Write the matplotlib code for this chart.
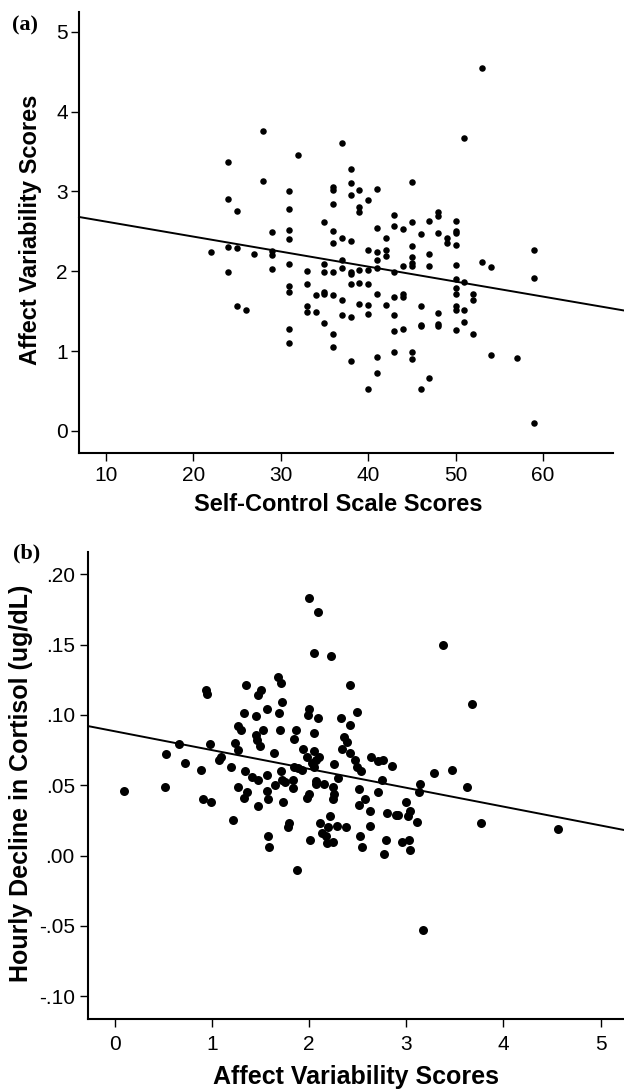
import matplotlib
matplotlib.use("Agg")
import matplotlib.pyplot as plt
import numpy as np

plt.rcParams['font.family'] = ['Liberation Sans', 'DejaVu Sans']

# panel (a): self-control vs affect variability
sc_x = [24, 28, 32, 28, 24, 25, 31, 31, 29, 31, 31, 22, 24, 25, 27, 29, 29, 31, 29, 24, 33,
        53, 51, 37, 38, 38, 38, 36, 36, 39, 41, 40, 36, 39, 39, 45, 35, 36, 36, 37, 38,
        41, 43, 43, 44, 42, 45, 46, 47, 48, 48, 48, 49, 49, 50, 50, 50, 50, 45, 40, 41,
        41, 42, 42, 45, 45, 45, 47, 47, 37, 37, 38, 38, 39, 40, 41, 35, 35, 36, 43, 44,
        50, 53, 54, 59, 59,
        50, 50, 50, 51, 52, 52, 31, 31, 33, 34, 35, 35, 36, 37, 38, 39, 40, 41, 43, 44,
        44, 25, 26, 33, 33, 34, 37, 38, 39, 40, 40, 42, 43, 46, 48, 50, 50, 51, 35, 31,
        36, 43, 44, 46, 46, 48, 48, 50, 51, 52, 31, 36, 38, 41, 43, 45, 45, 54, 57, 41,
        40, 46, 47, 59]
av_y = [3.37, 3.76, 3.46, 3.13, 2.91, 2.76, 3.00, 2.78, 2.49, 2.51, 2.40, 2.24, 2.30, 2.29,
        2.22, 2.25, 2.20, 2.09, 2.03, 1.99, 2.00,
        4.55, 3.67, 3.61, 3.28, 3.10, 2.96, 3.05, 3.02, 3.02, 3.03, 2.89, 2.84, 2.80, 2.74,
        3.12, 2.62, 2.50, 2.35, 2.41, 2.38, 2.54, 2.70, 2.57, 2.53, 2.41, 2.62, 2.47, 2.63,
        2.74, 2.69, 2.48, 2.42, 2.35, 2.63, 2.50, 2.48, 2.33, 2.32, 2.26, 2.24, 2.14, 2.26,
        2.19, 2.18, 2.10, 2.06, 2.22, 2.07, 2.14, 2.04, 1.99, 1.96, 2.02, 2.02, 2.04, 2.09,
        1.99, 1.99, 1.99, 2.06, 2.08, 2.11, 2.05, 2.26, 1.92,
        1.90, 1.79, 1.71, 1.87, 1.71, 1.64, 1.81, 1.74, 1.84, 1.70, 1.74, 1.72, 1.70, 1.64,
        1.84, 1.85, 1.84, 1.72, 1.68, 1.71, 1.68, 1.57, 1.51, 1.56, 1.49, 1.49, 1.45, 1.43,
        1.59, 1.58, 1.47, 1.58, 1.45, 1.56, 1.48, 1.56, 1.51, 1.52, 1.35, 1.28, 1.21, 1.25,
        1.28, 1.32, 1.33, 1.34, 1.32, 1.27, 1.36, 1.21, 1.10, 1.05, 0.87, 0.93, 0.99, 0.99,
        0.90, 0.95, 0.91, 0.72, 0.53, 0.52, 0.66, 0.10]
fit_a = (2.81, -0.0188)   # intercept, slope

# panel (b): affect variability vs hourly cortisol decline
av_x = [2.00, 2.09, 2.05, 2.23, 3.38, 3.68, 0.94, 0.95, 1.35, 1.51, 1.48, 1.68, 1.71, 1.72,
        2.42, 1.57, 1.69, 1.33, 1.46, 2.00, 1.99, 2.09, 2.33, 2.49, 2.42, 1.27, 1.30, 1.53,
        1.45, 1.70, 1.87, 1.85, 2.05, 2.36, 2.39, 2.34, 1.47, 1.50, 1.24, 0.98, 0.66, 0.53,
        0.72, 1.27, 1.64, 1.94, 1.98, 2.03, 2.07, 2.05, 2.10, 2.42, 2.47, 2.49, 2.54, 2.64,
        2.71, 2.76, 2.85, 2.26, 2.30, 2.07, 2.15, 2.25, 2.26, 2.75, 3.29, 3.47, 1.07, 1.10,
        0.89, 1.20, 1.34, 1.41, 1.48, 1.57, 1.71, 1.72, 1.84, 1.85, 1.89, 1.65, 1.93, 2.05,
        2.07,
        0.10, 0.52, 0.91, 0.99, 1.27, 1.36, 1.33, 1.57, 1.75, 1.84, 1.58, 1.73, 1.48, 1.22,
        1.79, 1.78, 1.58, 1.59, 1.88, 2.00, 1.98, 2.25, 2.11, 2.13, 2.18, 2.22, 2.20, 2.29,
        2.38, 2.19, 2.25, 2.01, 2.51, 2.51, 2.58, 2.71, 2.63, 2.63, 2.52, 2.55, 2.80, 2.89,
        2.92, 2.79, 2.77, 3.00, 3.04, 3.02, 3.11, 2.96, 3.03, 3.04, 3.14, 3.13, 3.17, 3.63,
        3.77, 4.56]
cort_y = [0.183, 0.173, 0.144, 0.142, 0.150, 0.108, 0.118, 0.115, 0.121, 0.118, 0.114, 0.127,
          0.123, 0.109, 0.121, 0.104, 0.101, 0.101, 0.099, 0.104, 0.100, 0.098, 0.098, 0.102,
          0.093, 0.092, 0.089, 0.089, 0.086, 0.089, 0.089, 0.083, 0.087, 0.084, 0.081, 0.076,
          0.082, 0.078, 0.080, 0.079, 0.079, 0.072, 0.066, 0.075, 0.073, 0.076, 0.070, 0.066,
          0.068, 0.074, 0.070, 0.073, 0.068, 0.063, 0.060, 0.070, 0.067, 0.068, 0.064, 0.065,
          0.055, 0.051, 0.051, 0.049, 0.044, 0.054, 0.059, 0.061, 0.068, 0.070, 0.061, 0.063,
          0.060, 0.056, 0.054, 0.057, 0.060, 0.054, 0.054, 0.063, 0.062, 0.050, 0.061, 0.063,
          0.053,
          0.046, 0.049, 0.040, 0.038, 0.049, 0.045, 0.041, 0.046, 0.052, 0.048, 0.040, 0.038,
          0.035, 0.025, 0.023, 0.020, 0.014, 0.006, -0.010, 0.044, 0.041, 0.040, 0.023, 0.016,
          0.014, 0.028, 0.020, 0.021, 0.020, 0.009, 0.010, 0.011, 0.047, 0.036, 0.040, 0.045,
          0.032, 0.021, 0.014, 0.006, 0.030, 0.029, 0.029, 0.011, 0.001, 0.038, 0.032, 0.028,
          0.024, 0.010, 0.011, 0.004, 0.051, 0.045, -0.053, 0.049, 0.023, 0.019]
fit_b = (0.0884, -0.0134)

b_yticks = [0.20, 0.15, 0.10, 0.05, 0.00, -0.05, -0.10]
b_ylabels = ['.20', '.15', '.10', '.05', '.00', '-.05', '-.10']

fig = plt.figure(figsize=(6.24, 10.91), dpi=100)

def style(ax, xpad, ypad):
    ax.spines['top'].set_visible(False)
    ax.spines['right'].set_visible(False)
    ax.spines['left'].set_linewidth(1.5)
    ax.spines['bottom'].set_linewidth(1.5)
    ax.tick_params(direction='out', length=5.5, width=1, labelsize=15)
    ax.tick_params(axis='x', pad=xpad)
    ax.tick_params(axis='y', pad=ypad)

# ---- (a)
ax1 = fig.add_axes([0.1266, 0.5845, 0.856, 0.4048])
style(ax1, 3.5, 2.5)
ax1.scatter(sc_x, av_y, s=22, c='black', linewidths=0, zorder=3)
xl = np.array([6.95, 69.3])
ax1.plot(xl, fit_a[0] + fit_a[1]*xl, color='black', lw=1.4, clip_on=False)
ax1.set_xlim(6.95, 68)
ax1.set_ylim(-0.28, 5.25)
ax1.set_xticks([10, 20, 30, 40, 50, 60])
ax1.set_yticks([0, 1, 2, 3, 4, 5])
ax1.set_xlabel('Self-Control Scale Scores', fontsize=17, fontweight='bold')
ax1.set_ylabel('Affect Variability Scores', fontsize=17, fontweight='bold')
ax1.xaxis.set_label_coords(0.486, -0.09)
ax1.yaxis.set_label_coords(-0.069, 0.506)
fig.text(0.019, 0.986, '(a)', fontsize=16, fontweight='bold', family='Liberation Serif', va='top')

# ---- (b)
ax2 = fig.add_axes([0.141, 0.0657, 0.859, 0.4286])
style(ax2, 5.5, 4)
ax2.scatter(av_x, cort_y, s=42, c='black', linewidths=0, zorder=3)
xl = np.array([-0.273, 5.24])
ax2.plot(xl, fit_b[0] + fit_b[1]*xl, color='black', lw=1.4)
ax2.set_xlim(-0.273, 5.24)
ax2.set_ylim(-0.1164, 0.216)
ax2.set_xticks([0, 1, 2, 3, 4, 5])
ax2.set_yticks(b_yticks)
ax2.set_yticklabels(b_ylabels)
ax2.set_xlabel('Affect Variability Scores', fontsize=18, fontweight='bold')
ax2.set_ylabel('Hourly Decline in Cortisol (ug/dL)', fontsize=18, fontweight='bold')
ax2.xaxis.set_label_coords(0.5, -0.098)
ax2.yaxis.set_label_coords(-0.1026, 0.504)
fig.text(0.021, 0.502, '(b)', fontsize=16, fontweight='bold', family='Liberation Serif', va='top')

fig.savefig('out.png', dpi=100)
